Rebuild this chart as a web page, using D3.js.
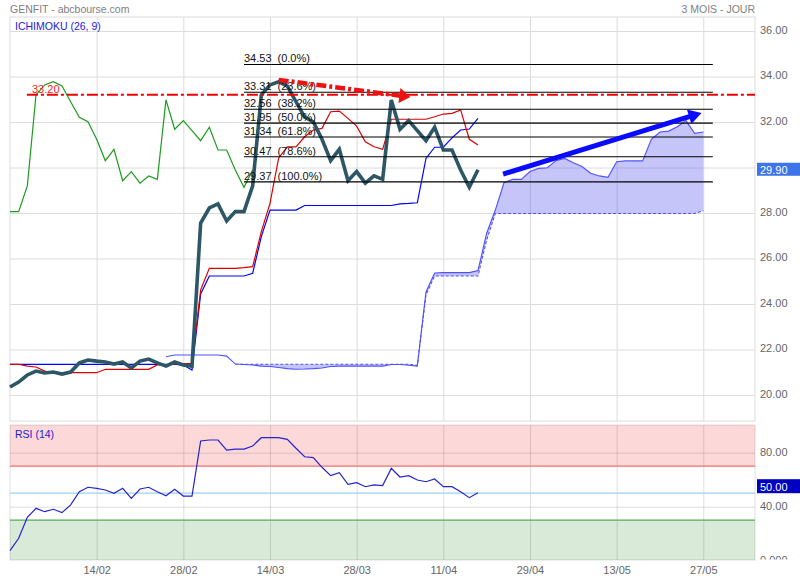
<!DOCTYPE html>
<html><head><meta charset="utf-8">
<script src="https://cdn.jsdelivr.net/npm/d3@7"></script>
<style>
body{margin:0;background:#fff;}
svg{display:block;font-family:"Liberation Sans",Arial,sans-serif;}
</style></head><body>
<svg id="c" width="800" height="580"></svg>
<script>
// ---------- data ----------
const xTickIdx = [10, 20, 30, 40, 50, 60, 70, 80];
const xTickLabels = ["14/02", "28/02", "14/03", "28/03", "11/04", "29/04", "13/05", "27/05"];
const priceTicks = [20, 22, 24, 26, 28, 30, 32, 34, 36];
const rsiTicks = [0, 40, 80];
const rsiTickLabels = ["0.000", "40.00", "80.00"];

const close = [20.35, 20.57, 20.88, 21.05, 20.97, 21.01, 20.92, 21.01, 21.41, 21.54,
  21.49, 21.45, 21.36, 21.45, 21.19, 21.49, 21.58, 21.41, 21.27, 21.45,
  21.32, 21.27, 27.56, 28.22, 28.40, 27.65, 28.06, 28.06, 29.19, 33.19,
  33.63, 33.77, 33.58, 32.89, 32.21, 32.01, 31.24, 30.30, 30.80, 29.42,
  29.82, 29.31, 29.63, 29.48, 32.97, 31.68, 32.06, 31.62, 31.18, 31.77,
  30.77, 30.77, 29.89, 29.13, 29.90];

const chikou = [28.06, 28.06, 29.19, 33.19, 33.63, 33.77, 33.58, 32.89, 32.21, 32.01,
  31.24, 30.30, 30.80, 29.42, 29.82, 29.31, 29.63, 29.48, 32.97, 31.68,
  32.06, 31.62, 31.18, 31.77, 30.77, 30.77, 29.89, 29.13, 29.90];

const tenkan = [21.35, 21.35, 21.27, 21.23, 21.05, 20.98, 20.98, 20.98, 20.98, 20.98,
  20.98, 21.13, 21.13, 21.13, 21.13, 21.13, 21.13, 21.32, 21.32, 21.36,
  21.38, 21.38, 24.62, 25.57, 25.57, 25.57, 25.57, 25.60, 25.64, 27.18,
  28.42, 30.42, 30.91, 30.91, 31.35, 31.65, 31.72, 32.45, 32.48, 32.16,
  31.82, 31.13, 30.91, 30.80, 32.12, 32.12, 32.12, 32.12, 32.12, 32.23,
  32.35, 32.38, 32.53, 31.24, 30.99];

const kijun = [21.35, 21.35, 21.35, 21.35, 21.35, 21.35, 21.35, 21.35, 21.35, 21.35,
  21.35, 21.35, 21.35, 21.35, 21.35, 21.35, 21.35, 21.35, 21.35, 21.35,
  21.32, 21.10, 24.44, 25.23, 25.23, 25.23, 25.23, 25.23, 25.35, 26.96,
  28.13, 28.13, 28.13, 28.13, 28.33, 28.33, 28.33, 28.33, 28.33, 28.33,
  28.33, 28.33, 28.33, 28.33, 28.33, 28.40, 28.42, 28.45, 30.40, 30.89,
  30.89, 31.30, 31.65, 31.69, 32.16];

const senkouAStart = 18;
const senkouA = [21.68, 21.76, 21.76, 21.76, 21.76, 21.76, 21.76, 21.71,
  21.36, 21.34, 21.32, 21.27, 21.25, 21.21, 21.16, 21.13, 21.14, 21.16,
  21.19, 21.25, 21.27, 21.27, 21.27, 21.27, 21.27, 21.27, 21.34, 21.34,
  21.31, 21.27, 24.53, 25.36, 25.38, 25.38, 25.38, 25.38, 25.47, 27.11,
  28.13, 29.33, 29.48, 29.48, 29.82, 29.96, 29.99, 30.30, 30.40, 30.21,
  30.04, 29.75, 29.63, 29.57, 30.25, 30.29, 30.29, 30.29, 31.24, 31.56,
  31.60, 31.79, 32.06, 31.50, 31.56];

const senkouBStart = 26;
const senkouB = [21.35, 21.35, 21.35, 21.35, 21.35, 21.35, 21.35, 21.35, 21.35, 21.35,
  21.35, 21.35, 21.35, 21.35, 21.35, 21.35, 21.35, 21.35, 21.35, 21.35,
  21.35, 21.30, 24.40, 25.23, 25.23, 25.23, 25.23, 25.23, 25.23, 26.81,
  27.98, 27.98, 27.98, 27.98, 27.98, 27.98, 27.98, 27.98, 27.98, 27.98,
  27.98, 27.98, 27.98, 27.98, 27.98, 27.98, 27.98, 27.98, 27.98, 27.98,
  27.98, 27.98, 27.98, 27.98, 28.10];

const rsi = [7.4, 16.6, 32.1, 38.8, 36.3, 38.1, 35.6, 41.3, 51.1, 54.4,
  53.6, 52.4, 49.9, 53.6, 46.2, 53.1, 54.4, 51.1, 48.1, 52.9,
  47.9, 47.9, 88.7, 89.4, 89.4, 81.9, 82.7, 82.7, 85.0, 91.1,
  91.1, 91.1, 89.9, 83.3, 77.0, 76.3, 69.2, 63.0, 65.2, 56.6,
  57.8, 54.8, 56.1, 55.6, 68.4, 62.0, 63.0, 59.8, 58.5, 60.5,
  54.8, 54.8, 51.1, 46.7, 50.4];

const fibLevels = [34.53, 33.31, 32.56, 31.95, 31.34, 30.47, 29.37];
const fibPct = ["(0.0%)", "(23.6%)", "(38.2%)", "(50.0%)", "(61.8%)", "(78.6%)", "(100.0%)"];
const fibSpan = [27, 81.1];
const resistance = 33.20;
const resistanceFrom = 1.95;
const redArrow = [[31, 33.85], [46.2, 33.10]];
const blueArrow = [[56.9, 29.71], [79.8, 32.40]];
const lastPrice = 29.90;
const rsiLevels = {high: 70, mid: 50, low: 30};

// ---------- layout ----------
const L = 10, R = 755, mainTop = 17, mainBot = 421, rsiTop = 425, rsiBot = 560;
const svg = d3.select("#c");
const x = d3.scaleLinear().domain([0, 86]).range([10, 755.3]);
const y = d3.scaleLinear().domain([20, 36]).range([395, 31]);
const yr = d3.scaleLinear().domain([0, 100]).range([560.7, 425.7]);
const gridCol = "#dcdcdc";

// header
svg.append("text").attr("x", 10).attr("y", 13).attr("font-size", 10.5).attr("fill", "#808080").text("GENFIT - abcbourse.com");
svg.append("text").attr("x", 755).attr("y", 13).attr("font-size", 10.5).attr("fill", "#808080").attr("text-anchor", "end").text("3 MOIS - JOUR");

// ---------- main panel ----------
const main = svg.append("g");
main.append("rect").attr("x", L).attr("y", mainTop).attr("width", R - L).attr("height", mainBot - mainTop)
  .attr("fill", "#fff").attr("stroke", gridCol);

const gx = main.append("g").attr("transform", `translate(0,${mainBot})`)
  .call(d3.axisBottom(x).tickValues(xTickIdx).tickSize(-(mainBot - mainTop)).tickFormat(""));
gx.select(".domain").remove();
gx.selectAll("line").attr("stroke", gridCol);

const gy = main.append("g").attr("transform", `translate(${L},0)`)
  .call(d3.axisLeft(y).tickValues(priceTicks).tickSize(-(R - L)).tickFormat(""));
gy.select(".domain").remove();
gy.selectAll("line").attr("stroke", gridCol);

// cloud
const cloudData = d3.range(senkouBStart, senkouAStart + senkouA.length).map(i => ({
  i, a: senkouA[i - senkouAStart], b: senkouB[i - senkouBStart]
}));
main.append("path").datum(cloudData)
  .attr("d", d3.area().x(d => x(d.i)).y0(d => y(d.b)).y1(d => y(d.a)))
  .attr("fill", "rgb(90,90,240)").attr("fill-opacity", 0.35);
const lineIdx = (arr, start) => d3.line().x((d, k) => x(start + k)).y(d => y(d))(arr);
main.append("path").attr("d", lineIdx(senkouB, senkouBStart)).attr("fill", "none")
  .attr("stroke", "#5050ff").attr("stroke-width", 1.1).attr("stroke-dasharray", "3,2");
main.append("path").attr("d", lineIdx(senkouA, senkouAStart)).attr("fill", "none")
  .attr("stroke", "#5050ff").attr("stroke-width", 1.1);

// kijun / tenkan / chikou
main.append("path").attr("d", lineIdx(kijun, 0)).attr("fill", "none").attr("stroke", "#0000ff").attr("stroke-width", 1.2);
main.append("path").attr("d", lineIdx(tenkan, 0)).attr("fill", "none").attr("stroke", "#dd0000").attr("stroke-width", 1.2);
main.append("path").attr("d", lineIdx(chikou, 0)).attr("fill", "none").attr("stroke", "#1e9a1e").attr("stroke-width", 1.2);

// price
main.append("path").attr("d", lineIdx(close, 0)).attr("fill", "none").attr("stroke", "#2d5666")
  .attr("stroke-width", 3.6).attr("stroke-linejoin", "miter");

// fibonacci
fibLevels.forEach((v, k) => {
  main.append("line").attr("x1", x(fibSpan[0])).attr("x2", x(fibSpan[1])).attr("y1", y(v)).attr("y2", y(v))
    .attr("stroke", "#000").attr("stroke-width", 1.1);
  main.append("text").attr("x", x(fibSpan[0])).attr("y", y(v) - 2).attr("font-size", 11).attr("fill", "#111").text(v.toFixed(2));
  main.append("text").attr("x", x(fibSpan[0]) + 33.5).attr("y", y(v) - 2).attr("font-size", 11).attr("fill", "#111").text(fibPct[k]);
});

// resistance line
main.append("line").attr("x1", x(resistanceFrom)).attr("x2", R).attr("y1", y(resistance)).attr("y2", y(resistance))
  .attr("stroke", "#ee0000").attr("stroke-width", 2).attr("stroke-dasharray", "11,3,3,3");
main.append("text").attr("x", 32).attr("y", y(resistance) - 1.7).attr("font-size", 11).attr("fill", "#ff2020").text(resistance.toFixed(2));

// arrows
function arrow(g, pts, color, width, len, half, dash) {
  const x1 = x(pts[0][0]), y1 = y(pts[0][1]), x2 = x(pts[1][0]), y2 = y(pts[1][1]);
  const a = Math.atan2(y2 - y1, x2 - x1);
  const bx = x2 - len * Math.cos(a), by = y2 - len * Math.sin(a);
  const px = -Math.sin(a) * half, py = Math.cos(a) * half;
  const ln = g.append("line").attr("x1", x1).attr("y1", y1).attr("x2", bx + Math.cos(a)).attr("y2", by + Math.sin(a))
    .attr("stroke", color).attr("stroke-width", width);
  if (dash) ln.attr("stroke-dasharray", dash);
  g.append("path").attr("d", `M${x2},${y2}L${bx + px},${by + py}L${bx - px},${by - py}Z`).attr("fill", color);
}
arrow(main, redArrow, "#ee1111", 4.5, 11, 7.5, "10,3,3,3");
arrow(main, blueArrow, "#0a0aff", 5, 13, 7.5, null);

main.append("text").attr("x", 15).attr("y", 30).attr("font-size", 10.5).attr("fill", "#2020e0").text("ICHIMOKU (26, 9)");

// price axis labels (the 30.00 label sits under the last-price box, so it is not shown)
const ay = main.append("g").attr("transform", `translate(${R},0)`)
  .call(d3.axisRight(y).tickValues(priceTicks.filter(t => Math.abs(y(t) - y(lastPrice)) > 10))
    .tickSize(0).tickPadding(5).tickFormat(d => d.toFixed(2)));
ay.select(".domain").remove();
ay.selectAll("text").attr("font-size", 11).attr("fill", "#666").attr("dy", "0.21em").attr("font-family", null);

// last price box
main.append("rect").attr("x", 757).attr("y", y(lastPrice) - 7).attr("width", 43).attr("height", 13).attr("fill", "#3d74ea");
main.append("text").attr("x", 760).attr("y", y(lastPrice) + 4).attr("font-size", 11).attr("fill", "#fff").text(lastPrice.toFixed(2));

// ---------- RSI panel ----------
const rp = svg.append("g");
rp.append("rect").attr("x", L).attr("y", rsiTop).attr("width", R - L).attr("height", rsiBot - rsiTop).attr("fill", "#fff");
rp.append("rect").attr("x", L).attr("y", rsiTop).attr("width", R - L).attr("height", yr(rsiLevels.high) - rsiTop).attr("fill", "#fdd8d8");
rp.append("rect").attr("x", L).attr("y", yr(rsiLevels.low)).attr("width", R - L).attr("height", rsiBot - yr(rsiLevels.low)).attr("fill", "#d9ead8");

const rgx = rp.append("g").attr("transform", `translate(0,${rsiBot})`)
  .call(d3.axisBottom(x).tickValues(xTickIdx).tickSize(-(rsiBot - rsiTop)).tickFormat(""));
rgx.select(".domain").remove();
rgx.selectAll("line").attr("stroke", "#000").attr("stroke-opacity", 0.13);
const rgy = rp.append("g").attr("transform", `translate(${L},0)`)
  .call(d3.axisLeft(yr).tickValues([40, 80]).tickSize(-(R - L)).tickFormat(""));
rgy.select(".domain").remove();
rgy.selectAll("line").attr("stroke", "#000").attr("stroke-opacity", 0.13);
rp.append("rect").attr("x", L).attr("y", rsiTop).attr("width", R - L).attr("height", rsiBot - rsiTop)
  .attr("fill", "none").attr("stroke", "#000").attr("stroke-opacity", 0.13);

const hline = (v, col) => rp.append("line").attr("x1", L).attr("x2", R).attr("y1", yr(v)).attr("y2", yr(v))
  .attr("stroke", col).attr("stroke-width", 1.2);
hline(rsiLevels.high, "#f07070");
hline(rsiLevels.low, "#55aa55");
hline(rsiLevels.mid, "#9ccfff");

rp.append("path").attr("d", d3.line().x((d, k) => x(k)).y(d => yr(d))(rsi))
  .attr("fill", "none").attr("stroke", "#2424cc").attr("stroke-width", 1.2);
rp.append("text").attr("x", 15).attr("y", 438).attr("font-size", 10.5).attr("fill", "#2020d0").text("RSI (14)");

svg.append("clipPath").attr("id", "rclip").append("rect").attr("x", 755).attr("y", 420).attr("width", 45).attr("height", 139.5);
const ary = svg.append("g").attr("clip-path", "url(#rclip)").append("g").attr("transform", `translate(${R},0)`)
  .call(d3.axisRight(yr).tickValues(rsiTicks).tickSize(0).tickPadding(5).tickFormat((d, k) => rsiTickLabels[k]));
ary.select(".domain").remove();
ary.selectAll("text").attr("font-size", 11).attr("fill", "#666").attr("dy", "0.21em").attr("font-family", null);

svg.append("rect").attr("x", 757).attr("y", yr(rsiLevels.mid) - 14).attr("width", 43).attr("height", 14).attr("fill", "#0000c0");
svg.append("text").attr("x", 760).attr("y", yr(rsiLevels.mid) - 2.5).attr("font-size", 11).attr("fill", "#fff").text(rsiLevels.mid.toFixed(2));

// x axis labels
const ax = svg.append("g").attr("transform", `translate(0,${rsiBot})`)
  .call(d3.axisBottom(x).tickValues(xTickIdx).tickSize(0).tickPadding(6).tickFormat((d, k) => xTickLabels[k]));
ax.select(".domain").remove();
ax.selectAll("text").attr("font-size", 11).attr("fill", "#666").attr("font-family", null);
</script>
</body></html>
